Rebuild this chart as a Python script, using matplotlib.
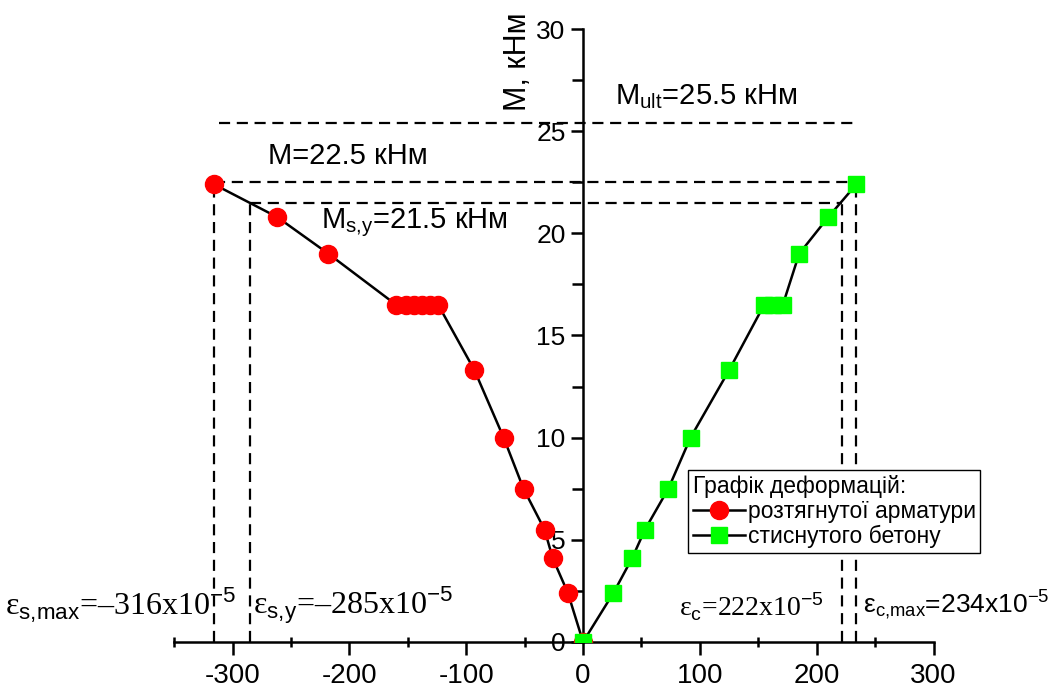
import matplotlib
matplotlib.use("Agg")
import matplotlib.pyplot as plt
from matplotlib.ticker import MultipleLocator

plt.rcParams['font.family'] = ['Liberation Sans', 'DejaVu Sans']
plt.rcParams['mathtext.fontset'] = 'custom'
plt.rcParams['mathtext.rm'] = 'Liberation Sans'
plt.rcParams['mathtext.it'] = 'Liberation Sans:italic'
plt.rcParams['mathtext.sf'] = 'Liberation Sans'
plt.rcParams['axes.unicode_minus'] = False

# розтягнута арматура (деформації x10^-5, момент кНм)
steel_eps = [0, -13, -26, -33, -51, -68, -93, -124, -131, -138, -145, -152, -160, -218, -262, -316]
steel_m = [0, 2.4, 4.1, 5.5, 7.5, 10.0, 13.3, 16.5, 16.5, 16.5, 16.5, 16.5, 16.5, 19.0, 20.8, 22.4]

# стиснутий бетон
concrete_eps = [0, 26, 42, 53, 73, 92, 125, 155, 163, 171, 185, 210, 234]
concrete_m = [0, 2.4, 4.1, 5.5, 7.5, 10.0, 13.3, 16.5, 16.5, 16.5, 19.0, 20.8, 22.4]

# характерні значення
M_ult = 25.4
M_max = 22.5
M_sy = 21.5
eps_s_max = -316
eps_s_y = -285
eps_c = 222
eps_c_max = 234

fig = plt.figure(figsize=(10.56, 6.91), dpi=100)
ax = fig.add_axes([0.165, 0.071, 0.719, 0.887])

dash = (0, (5, 3))
ax.plot([eps_s_max, eps_c_max], [M_max, M_max], color='black', lw=1.6, ls=dash, zorder=1)
ax.plot([eps_s_y, eps_c], [M_sy, M_sy], color='black', lw=1.6, ls=dash, zorder=1)
ax.plot([-312, eps_c_max], [M_ult, M_ult], color='black', lw=1.6, ls=dash, zorder=1)
for e, m in [(eps_s_max, M_max), (eps_s_y, M_sy), (eps_c, M_sy), (eps_c_max, M_max)]:
    ax.plot([e, e], [0, m], color='black', lw=1.6, ls=dash, zorder=1)

ax.plot(steel_eps, steel_m, color='black', lw=1.8, marker='o', ms=13,
        mfc='#ff0000', mec='#ff0000', label='розтягнутої арматури', zorder=3)
ax.plot(concrete_eps, concrete_m, color='black', lw=1.8, marker='s', ms=12,
        mfc='#00ff00', mec='#00ff00', label='стиснутого бетону', zorder=3)

ax.set_xlim(-350, 300)
ax.set_ylim(0, 30)
ax.spines['left'].set_position(('data', 0))
ax.spines['top'].set_visible(False)
ax.spines['right'].set_visible(False)
ax.spines['left'].set_linewidth(1.8)
ax.spines['bottom'].set_linewidth(1.8)
ax.xaxis.set_major_locator(MultipleLocator(100))
ax.xaxis.set_minor_locator(MultipleLocator(50))
ax.yaxis.set_major_locator(MultipleLocator(5))
ax.yaxis.set_minor_locator(MultipleLocator(2.5))
ax.tick_params(axis='both', which='major', direction='out', length=9, width=1.8)
ax.tick_params(axis='x', which='major', labelsize=20, pad=6)
ax.tick_params(axis='y', which='major', labelsize=19)
ax.tick_params(axis='x', which='minor', direction='inout', length=7, width=1.8)
ax.tick_params(axis='y', which='minor', direction='out', length=8, width=1.8)

ax.text(-56, 28.4, 'M, кНм', rotation=90, ha='center', va='center', fontsize=22)

ax.text(27, 26.7, r'M$_{\mathrm{ult}}$=25.5 кНм', ha='left', va='center', fontsize=21)
ax.text(-270, 23.8, 'M=22.5 кНм', ha='left', va='center', fontsize=21)
ax.text(-224, 20.5, r'M$_{\mathrm{s{,}y}}$=21.5 кНм', ha='left', va='center', fontsize=21)

serif = ['Liberation Serif', 'DejaVu Serif']
ax.text(-495, 1.8, r'ε$_{\mathrm{s{,}max}}$=–316x10$^{\mathrm{-5}}$', ha='left', va='center',
        fontsize=23, family=serif, clip_on=False)
ax.text(-283, 1.8, r'ε$_{\mathrm{s{,}y}}$=–285x10$^{\mathrm{-5}}$', ha='left', va='center',
        fontsize=23, family=serif, clip_on=False)
ax.text(82, 1.7, r'ε$_{\mathrm{c}}$=222x10$^{\mathrm{-5}}$', ha='left', va='center',
        fontsize=20, family=serif, clip_on=False)
ax.text(240, 1.8, r'ε$_{\mathrm{c{,}max}}$=234x10$^{\mathrm{-5}}$', ha='left', va='center',
        fontsize=19, clip_on=False)

leg = ax.legend(title='Графік деформацій:', loc='upper left',
                bbox_to_anchor=(688 / 1056, 1 - 470 / 691), bbox_transform=fig.transFigure,
                fontsize=16.5, title_fontsize=16.5, frameon=True, fancybox=False,
                edgecolor='black', framealpha=1, handlelength=2.3, handletextpad=0.1,
                labelspacing=0.1, borderpad=0.2, borderaxespad=0, alignment='left')
leg.get_frame().set_linewidth(1.0)

fig.savefig('out.png', dpi=100)
